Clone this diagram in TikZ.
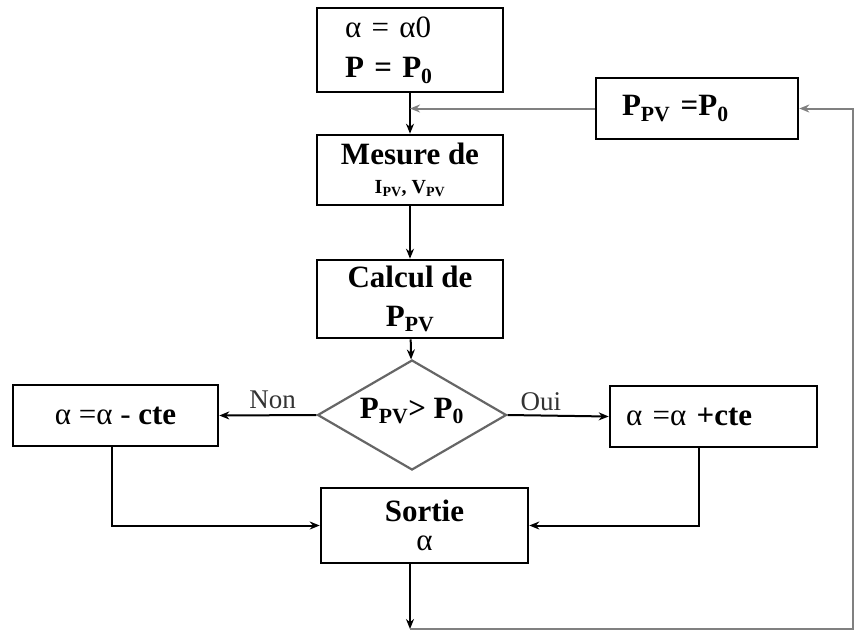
\documentclass[tikz,border=0pt]{standalone}
\usepackage{fontspec}
\setmainfont{Liberation Serif}
\usetikzlibrary{shapes.geometric, arrows.meta}

\begin{document}
\begin{tikzpicture}[x=1pt, y=-1pt, >={Stealth[length=10pt, width=8pt]},
        every node/.style={font=\fontsize{31}{39}\selectfont},
        boite/.style={draw, line width=2.6pt, inner sep=0pt},
        fleche/.style={->, line width=2pt},
        retour/.style={->, line width=2pt, draw=black!50}]
    \useasboundingbox (0,0) rectangle (856,632);

    \node[boite, minimum width=186pt, minimum height=84pt, text width=130pt, inner xsep=28pt, align=left] (init) at (410,50)
        {α = α0\\[1pt]\textbf{P = P\textsubscript{0}}};
    \node[boite, minimum width=186pt, minimum height=70pt, align=center] (mesure) at (410,170)
        {\textbf{Mesure de}\\[-10pt]{\fontsize{20}{22}\selectfont\textbf{I\textsubscript{PV}, V\textsubscript{PV}}}};
    \node[boite, minimum width=186pt, minimum height=78pt, align=center] (calcul) at (410,299)
        {\textbf{Calcul de}\\\textbf{P\textsubscript{PV}}};
    \node[diamond, draw=black!60, line width=2.2pt, minimum width=189pt, minimum height=110pt, inner sep=0pt] (test) at (412,415) {};
    \node (testtxt) at ([yshift=4pt]test) {\textbf{P\textsubscript{PV}> P\textsubscript{0}}};
    \node[boite, minimum width=205pt, minimum height=61pt] (moins) at (115.5,415.5) {α =α - \textbf{cte}};
    \node[boite, minimum width=207pt, minimum height=61pt, text width=175pt, inner xsep=16pt, align=left] (plus) at (713.5,416.5) {α =α \textbf{+cte}};
    \node[boite, minimum width=207pt, minimum height=75pt, align=center] (sortie) at (424.5,525.5)
        {\textbf{Sortie}\\[-10pt]α};
    \node[boite, minimum width=202pt, minimum height=61pt, text width=150pt, inner xsep=26pt, align=left] (ppv) at (697,108.5)
        {\textbf{P\textsubscript{PV} =P\textsubscript{0}}};
    \coordinate (coin) at (853,629);

    % liaisons
    \draw[fleche] (init) -- (mesure);
    \draw[fleche] (mesure) -- (calcul);
    \draw[fleche] (calcul) -- (test);
    \draw[fleche] (test.west) -- (moins.east) node[pos=0.45, above=2pt, font=\fontsize{27}{30}\selectfont, text=black!80] {Non};
    \draw[fleche] (test.east) -- (plus.west) node[pos=0.33, above, font=\fontsize{27}{30}\selectfont, text=black!80] {Oui};
    \draw[fleche] ([xshift=-4pt]moins.south) |- (sortie.west);
    \draw[fleche] ([xshift=-15pt]plus.south) |- (sortie.east);
    \draw[fleche] (sortie.south -| calcul) -- (calcul |- coin);
    \draw[retour] (calcul |- coin) -- (coin) |- (ppv.east);
    \draw[retour] (ppv.west) -- (ppv.west -| init);
\end{tikzpicture}
\end{document}
